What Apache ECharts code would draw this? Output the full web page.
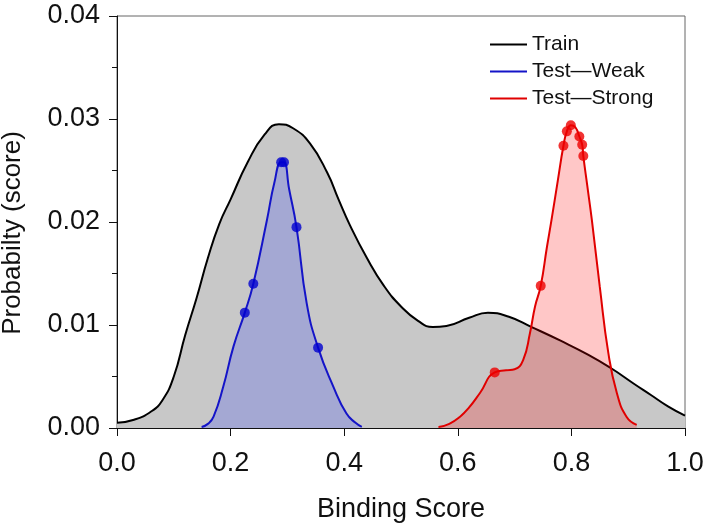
<!DOCTYPE html>
<html>
<head>
<meta charset="utf-8">
<script src="https://cdn.jsdelivr.net/npm/echarts@6/dist/echarts.min.js"></script>
<style>
html,body{margin:0;padding:0;background:#fff;}
#chart{width:709px;height:527px;}
</style>
</head>
<body>
<div id="chart"></div>
<script>
// Train density
var trainX = [0.00, 0.03, 0.06, 0.08, 0.10, 0.12, 0.14, 0.16, 0.18, 0.20, 0.23, 0.26, 0.285, 0.31, 0.34, 0.37, 0.39, 0.41, 0.44, 0.47, 0.50, 0.53, 0.556, 0.58, 0.62, 0.653, 0.69, 0.73, 0.78, 0.83, 0.87, 0.91, 0.94, 0.97, 1.00];
var trainY = [0.0005, 0.0008, 0.0016, 0.0027, 0.0050, 0.0090, 0.0126, 0.0165, 0.0198, 0.0222, 0.0258, 0.0285, 0.0295, 0.0291, 0.0276, 0.0248, 0.0222, 0.0197, 0.0165, 0.0138, 0.0118, 0.0104, 0.0098, 0.0099, 0.0107, 0.0112, 0.0108, 0.0098, 0.0085, 0.0071, 0.0058, 0.0043, 0.0032, 0.0021, 0.0012];

// Test—Weak density
var weakX = [0.149, 0.160, 0.170, 0.187, 0.205, 0.225, 0.240, 0.264, 0.277, 0.289, 0.294, 0.303, 0.316, 0.334, 0.354, 0.381, 0.404, 0.420, 0.431];
var weakY = [0.0001, 0.0004, 0.0011, 0.0040, 0.0079, 0.0112, 0.0140, 0.0202, 0.0238, 0.0258, 0.0258, 0.0232, 0.0195, 0.0121, 0.0078, 0.0040, 0.0014, 0.0005, 0.0001];
var weakMarkX = [0.225, 0.240, 0.289, 0.294, 0.316, 0.354];
var weakMarkY = [0.0112, 0.0140, 0.0258, 0.0258, 0.0195, 0.0078];

// Test—Strong density
var strongX = [0.566, 0.585, 0.604, 0.620, 0.639, 0.665, 0.685, 0.700, 0.715, 0.727, 0.736, 0.746, 0.757, 0.765, 0.776, 0.786, 0.792, 0.799, 0.807, 0.814, 0.819, 0.821, 0.828, 0.836, 0.850, 0.865, 0.880, 0.897, 0.915];
var strongY = [0.0001, 0.0004, 0.0011, 0.0020, 0.0034, 0.0054, 0.0056, 0.0057, 0.0066, 0.0092, 0.0118, 0.0138, 0.0176, 0.0202, 0.0240, 0.0274, 0.0288, 0.0294, 0.0292, 0.0283, 0.0275, 0.0264, 0.0235, 0.0202, 0.0137, 0.0073, 0.0034, 0.0011, 0.0003];
var strongMarkX = [0.665, 0.746, 0.786, 0.792, 0.799, 0.814, 0.819, 0.821];
var strongMarkY = [0.0054, 0.0138, 0.0274, 0.0288, 0.0294, 0.0283, 0.0275, 0.0264];

var seriesNames = ['Train', 'Test\u2014Weak', 'Test\u2014Strong'];

function pairs(xs, ys) { return xs.map(function (x, i) { return [x, ys[i]]; }); }

var FONT = 'Liberation Sans, Arial, sans-serif';
var chart = echarts.init(document.getElementById('chart'), null, {renderer: 'canvas'});
chart.setOption({
  animation: false,
  backgroundColor: '#ffffff',
  grid: {left: 117, right: 24, top: 16, bottom: 99, containLabel: false, outerBoundsMode: 'none',
         show: true, borderColor: '#666', borderWidth: 1, backgroundColor: 'transparent'},
  legend: {
    data: seriesNames.map(function (n) { return {name: n, icon: 'rect'}; }),
    orient: 'vertical', left: 485, top: 29,
    itemWidth: 37, itemHeight: 2, itemGap: 6,
    textStyle: {fontFamily: FONT, fontSize: 21, color: '#111', lineHeight: 21}
  },
  xAxis: {
    type: 'value', min: 0, max: 1, interval: 0.2,
    name: 'Binding Score', nameLocation: 'middle', nameGap: 68,
    nameTextStyle: {fontFamily: FONT, fontSize: 27, color: '#111'},
    axisLine: {show: true, lineStyle: {color: '#111', width: 1}},
    axisTick: {show: true, inside: false, length: 8, lineStyle: {color: '#111'}},
    axisLabel: {fontFamily: FONT, fontSize: 27, color: '#111', margin: 22, formatter: function (v) { return v.toFixed(1); }},
    splitLine: {show: false}
  },
  yAxis: {
    type: 'value', min: 0, max: 0.04, interval: 0.01,
    name: 'Probabilty (score)', nameLocation: 'middle', nameGap: 91,
    nameTextStyle: {fontFamily: FONT, fontSize: 26, color: '#111', padding: [0, 22, 0, 0]},
    axisLine: {show: true, lineStyle: {color: '#111', width: 1}},
    axisTick: {show: true, inside: false, length: 8, lineStyle: {color: '#111'}},
    minorTick: {show: true, splitNumber: 2, length: 5, lineStyle: {color: '#111'}},
    axisLabel: {fontFamily: FONT, fontSize: 27, color: '#111', margin: 17, formatter: function (v) { return v.toFixed(2); }},
    splitLine: {show: false}
  },
  series: [
    {
      name: seriesNames[0], type: 'line', data: pairs(trainX, trainY),
      smooth: 0.5, showSymbol: false, symbol: 'none',
      itemStyle: {color: '#000'},
      lineStyle: {color: '#000', width: 2},
      areaStyle: {color: '#c8c8c8', opacity: 1}, z: 2
    },
    {
      name: seriesNames[1], type: 'line', data: pairs(weakX, weakY),
      smooth: 0.5, showSymbol: false, symbol: 'none',
      itemStyle: {color: '#1414c8'},
      lineStyle: {color: '#1414c8', width: 2},
      areaStyle: {color: 'rgba(20,40,255,0.2)', opacity: 1}, z: 3
    },
    {
      name: seriesNames[2], type: 'line', data: pairs(strongX, strongY),
      smooth: 0.5, showSymbol: false, symbol: 'none',
      itemStyle: {color: '#e00000'},
      lineStyle: {color: '#e00000', width: 2},
      areaStyle: {color: 'rgba(255,0,0,0.22)', opacity: 1}, z: 4
    },
    {
      name: 'weakMarks', type: 'scatter', data: pairs(weakMarkX, weakMarkY),
      symbol: 'circle', symbolSize: 10, itemStyle: {color: '#0000d0'}, z: 5
    },
    {
      name: 'strongMarks', type: 'scatter', data: pairs(strongMarkX, strongMarkY),
      symbol: 'circle', symbolSize: 10, itemStyle: {color: '#ee0000'}, z: 5
    }
  ]
});
</script>
</body>
</html>
